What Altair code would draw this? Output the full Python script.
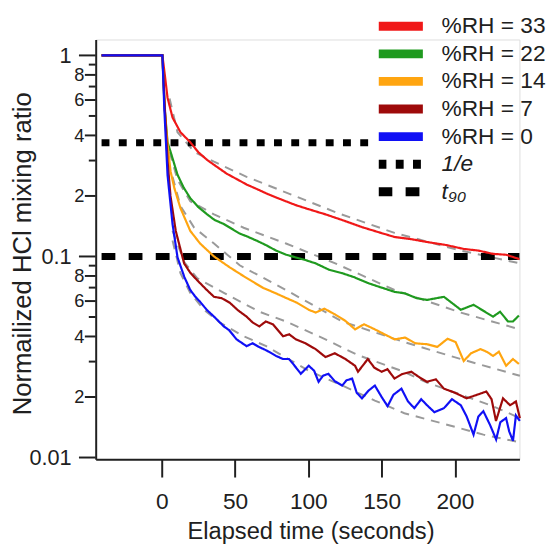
import altair as alt
import pandas as pd

# ---------------- data ----------------
SERIES = ["%RH = 33", "%RH = 22", "%RH = 14", "%RH = 7", "%RH = 0"]
COLORS = ["#f01818", "#1f9a1f", "#ffa510", "#9e0a0a", "#1010f5"]
REF_LABELS = ["1/e", "t₉₀"]
REF_VALUES = [0.368, 0.1]
REF_START = [-41, -41]
REF_END = [142, 244]

rh33_t = [-41, 0.5, 2, 4, 7.4, 12.8, 19.5, 25, 31, 38, 44.4, 51, 57.9, 64, 71.3, 80, 91.5, 100, 111.7,
          124, 136.6, 148, 158.8, 170, 181, 194, 206, 216, 226, 235, 244]
rh33_y = [1, 1, 0.816, 0.616, 0.491, 0.415, 0.37, 0.33, 0.302, 0.278, 0.258, 0.243, 0.228, 0.218, 0.206,
          0.194, 0.18, 0.172, 0.162, 0.151, 0.14, 0.132, 0.125, 0.122, 0.118, 0.114, 0.109, 0.107, 0.103,
          0.102, 0.097]

rh22_t = [-41, 0.5, 2, 4, 6.1, 10.8, 15, 19.5, 25, 31, 36, 42.4, 48, 53.2, 58, 64.6, 71, 78, 85, 91.5, 98,
          105, 114, 123, 131, 140.6, 150, 158.8, 166, 174, 181, 192.5, 204, 212.7, 221.4, 226, 230.8,
          236.2, 239.6, 243.6]
rh22_y = [1, 1, 0.55, 0.37, 0.331, 0.255, 0.22, 0.195, 0.176, 0.162, 0.152, 0.145, 0.137, 0.13, 0.126,
          0.12, 0.114, 0.107, 0.102, 0.0989, 0.096, 0.0924, 0.086, 0.0826, 0.079, 0.0738, 0.07, 0.0667,
          0.0655, 0.062, 0.0608, 0.063, 0.0543, 0.0575, 0.0526, 0.0502, 0.0531, 0.0475, 0.0475, 0.0508]

rh14_t = [-41, 0.5, 2, 4, 6.1, 8.7, 12.8, 19.5, 26.2, 35.7, 46.4, 55.9, 62, 69.3, 77, 84.8, 92, 100.3, 105,
          111, 118.4, 125, 131.9, 138, 145.4, 152, 158.8, 166, 173, 181, 188, 195, 200.5, 206, 211, 217.4,
          222, 226, 230, 234.9, 239.6, 243.6]
rh14_y = [1, 1, 0.54, 0.36, 0.264, 0.218, 0.174, 0.134, 0.116, 0.1, 0.0883, 0.0798, 0.075, 0.0697, 0.066,
          0.0622, 0.059, 0.0543, 0.0526, 0.055, 0.0514, 0.048, 0.0434, 0.046, 0.0434, 0.041, 0.0387, 0.0395,
          0.037, 0.0366, 0.0355, 0.039, 0.0375, 0.0302, 0.033, 0.0346, 0.0335, 0.032, 0.0336, 0.0286,
          0.0309, 0.0292]

rh7_t = [-41, 0.5, 2, 4, 6, 9.6, 15.3, 19.5, 24.2, 30, 35.7, 41, 46.4, 52, 57.9, 62, 66.6, 71, 76, 82.8, 87,
         91.5, 98, 105, 111.7, 118, 125, 131.9, 133.9, 140.6, 145, 150, 154, 158.8, 164, 170.3, 176, 181,
         187, 192.5, 200, 208, 215, 221.4, 225, 228, 232.8, 237.6, 241.6, 244.3]
rh7_y = [1, 1, 0.58, 0.3, 0.2, 0.134, 0.0924, 0.083, 0.0762, 0.069, 0.063, 0.062, 0.0589, 0.054, 0.0502,
         0.047, 0.0449, 0.0475, 0.0459, 0.0401, 0.041, 0.0387, 0.037, 0.0346, 0.0316, 0.033, 0.031, 0.0286,
         0.0267, 0.0309, 0.028, 0.0267, 0.0275, 0.0247, 0.026, 0.0267, 0.025, 0.0238, 0.0245, 0.022, 0.021,
         0.0197, 0.0205, 0.0213, 0.0195, 0.0152, 0.0197, 0.0182, 0.019, 0.0157]

rh0_t = [-41, 0.5, 1.8, 4, 7.4, 10.8, 15.5, 19.5, 23, 26.2, 31, 35.7, 42.4, 46, 51.1, 57.9, 62, 66.6, 70,
         73.4, 78, 82.8, 86.8, 90, 94.9, 100.3, 104, 107, 110, 113.7, 118, 123.1, 126, 129.9, 133, 136.6,
         141, 145.4, 150, 154.1, 158, 163.5, 168, 172.3, 177, 181, 186, 192.5, 198, 204, 208, 212.7, 216,
         219.4, 224, 228.1, 231, 234.9, 237, 239.6, 241.6, 244.3]
rh0_y = [1, 1, 0.54, 0.254, 0.145, 0.099, 0.0789, 0.0681, 0.063, 0.0595, 0.054, 0.0502, 0.0449, 0.043,
         0.0387, 0.0358, 0.037, 0.0354, 0.0345, 0.0335, 0.032, 0.0309, 0.0309, 0.029, 0.0261, 0.0286,
         0.027, 0.0238, 0.0255, 0.0261, 0.024, 0.0228, 0.0242, 0.0247, 0.021, 0.0197, 0.0215, 0.0228,
         0.02, 0.018, 0.0205, 0.022, 0.019, 0.0176, 0.0195, 0.0182, 0.0168, 0.0176, 0.0195, 0.0182, 0.016,
         0.013, 0.016, 0.017, 0.0145, 0.0123, 0.015, 0.0157, 0.0135, 0.0121, 0.0162, 0.0152]

fit33_t = [5.4, 10.8, 22.2, 35.7, 57.9, 91.5, 120.5, 158.8, 203.9, 244.3]
fit33_y = [0.61, 0.415, 0.331, 0.296, 0.249, 0.199, 0.164, 0.131, 0.107, 0.0924]
fit22_t = [5.4, 10.8, 19.5, 35.7, 55.9, 84.8, 118.4, 158.8, 203.9, 244.3]
fit22_y = [0.331, 0.241, 0.188, 0.162, 0.139, 0.116, 0.0924, 0.0681, 0.0526, 0.0434]
fit14_t = [7.4, 12.8, 22.2, 35.7, 53.2, 84.8, 123.1, 165.5, 203.9, 244.3]
fit14_y = [0.249, 0.178, 0.139, 0.116, 0.0904, 0.0681, 0.0475, 0.0375, 0.0309, 0.0255]
fit7_t = [7.4, 15.5, 24.2, 42.4, 66.6, 84.8, 111.7, 133.9, 163.5, 181, 226, 244.3]
fit7_y = [0.134, 0.0935, 0.078, 0.0659, 0.0531, 0.0475, 0.0387, 0.0323, 0.027, 0.0236, 0.018, 0.0157]
fit0_t = [7.4, 12.8, 19.5, 28.9, 39.7, 55.9, 71.3, 100.3, 123.1, 145.4, 165.5, 197.2, 219.4, 244.3]
fit0_y = [0.12, 0.0826, 0.0659, 0.0543, 0.0469, 0.0401, 0.0358, 0.027, 0.0228, 0.0192, 0.0166, 0.0144,
          0.013, 0.0119]

Y_TICKS = [round(m * 10.0 ** e, 4) for e in (-2, -1) for m in range(1, 10)] + [1.0]
X_TICKS = [0, 50, 100, 150, 200]

# ---------------- tables ----------------
curve_t = [rh33_t, rh22_t, rh14_t, rh7_t, rh0_t]
curve_y = [rh33_y, rh22_y, rh14_y, rh7_y, rh0_y]
fit_t = [fit33_t, fit22_t, fit14_t, fit7_t, fit0_t]
fit_y = [fit33_y, fit22_y, fit14_y, fit7_y, fit0_y]

rows = []
for i, (name, ts, ys) in enumerate(zip(SERIES, curve_t, curve_y)):
    for j, (t, y) in enumerate(zip(ts, ys)):
        rows.append({"label": name, "t": t, "v": y, "k": j})
curves = pd.DataFrame(rows)

frows = []
for i, (name, ts, ys) in enumerate(zip(SERIES, fit_t, fit_y)):
    for j, (t, y) in enumerate(zip(ts, ys)):
        frows.append({"fit": name, "t": t, "v": y, "k": j})
fits = pd.DataFrame(frows)

refs = pd.DataFrame({"label": REF_LABELS, "v": REF_VALUES, "t": REF_START, "t2": REF_END})
yticks = pd.DataFrame({"v": Y_TICKS})

# ---------------- scales / axes ----------------
FONT = "Liberation Sans"
INK = "#202020"
ALL = SERIES + REF_LABELS

x_scale = alt.Scale(domain=[-45, 244], nice=False, zero=False)
y_scale = alt.Scale(type="log", domain=[0.0098, 1.2], nice=False)
color_scale = alt.Scale(domain=ALL, range=COLORS + ["#000000", "#000000"])
dash_scale = alt.Scale(domain=ALL, range=[[1, 0]] * 5 + [[8, 9.5], [14, 13.5]])


def mant(ref):
    return f"round({ref} / pow(10, floor(log({ref}) / LN10 + 1e-6)))"


M = mant("datum.value")
MAJ = f"{M} == 1"
EVEN = f"{M} % 2 == 0"
MV = mant("datum.v")

x_axis = alt.Axis(
    values=X_TICKS, title="Elapsed time (seconds)", grid=False,
    ticks=True, tickSize=18, tickWidth=2, tickColor=INK,
    domainColor=INK, domainWidth=2,
    labelFont=FONT, labelFontSize=23, labelColor=INK, labelPadding=14, labelFlush=False,
    titleFont=FONT, titleFontSize=24, titleFontWeight="normal", titleColor=INK,
    titleX=218, titleY=80, titleAlign="center", titleBaseline="alphabetic",
)
y_axis = alt.Axis(
    values=Y_TICKS, title="Normailized HCl mixing ratio", grid=False,
    labelExpr=f"{MAJ} ? format(datum.value, '~g') : ({EVEN} ? '' + {M} : '')",
    labelOverlap=False, labelFlush=False,
    ticks=False, tickSize=0,
    labelPadding={"condition": {"test": MAJ, "value": 25}, "value": 12},
    labelFontSize={"condition": {"test": MAJ, "value": 22}, "value": 18.5},
    domainColor=INK, domainWidth=2,
    labelFont=FONT, labelColor=INK, labelBaseline="middle",
    titleFont=FONT, titleFontSize=26, titleFontWeight="normal", titleColor=INK,
    titleX=-66, titleY=217, titleAngle=270, titleAlign="center", titleBaseline="alphabetic",
)

legend = alt.Legend(
    title=None, orient="none", legendX=287, legendY=-27.2,
    symbolType="M-1.769,0H5.154", symbolSize=169, symbolStrokeWidth=9,
    labelFont=FONT, labelFontSize=23, labelColor=INK, labelOffset=41, labelLimit=0,
    labelFontStyle=alt.ExprRef("indexof(datum.value, '%') < 0 ? 'italic' : 'normal'"),
    clipHeight=27.5, rowPadding=0, padding=0, offset=0,
)

X = alt.X("t:Q", scale=x_scale, axis=x_axis)
Y = alt.Y("v:Q", scale=y_scale, axis=y_axis)

# ---------------- layers ----------------
fit_layer = alt.Chart(fits).mark_line(
    color="#9a9a9a", strokeWidth=2, strokeDash=[9, 7]
).encode(x=X, y=Y, detail="fit:N", order="k:Q")

ref_layer = alt.Chart(refs).mark_rule(strokeWidth=7, strokeCap="butt").encode(
    x=X, x2="t2:Q", y=Y,
    color=alt.Color("label:N", scale=color_scale, legend=legend),
    strokeDash=alt.StrokeDash("label:N", scale=dash_scale, legend=legend),
)

curve_layer = alt.Chart(curves).mark_line(strokeWidth=2.2, strokeCap="butt").encode(
    x=X, y=Y,
    color=alt.Color("label:N", scale=color_scale, legend=legend),
    strokeDash=alt.StrokeDash("label:N", scale=dash_scale, legend=legend),
    order="k:Q",
)

tick_rule = dict(strokeWidth=2, stroke=INK, clip=False)
ytick_major = alt.Chart(yticks).transform_filter(f"{MV} == 1").mark_rule(**tick_rule).encode(
    y=Y, x=alt.value(-17), x2=alt.value(0))
ytick_even = alt.Chart(yticks).transform_filter(f"{MV} != 1 && {MV} % 2 == 0").mark_rule(**tick_rule).encode(
    y=Y, x=alt.value(-11), x2=alt.value(0))
ytick_odd = alt.Chart(yticks).transform_filter(f"{MV} % 2 == 1 && {MV} != 1").mark_rule(**tick_rule).encode(
    y=Y, x=alt.value(-7), x2=alt.value(0))

chart = alt.layer(
    fit_layer, ref_layer, curve_layer, ytick_major, ytick_even, ytick_odd
).properties(
    width=430, height=426,
    autosize=alt.AutoSizeParams(type="none"),
    padding={"left": 89, "top": 28, "right": 30, "bottom": 82},
).configure_view(stroke=None).configure(font=FONT)

chart.save("out.html", embed_options={"renderer": "svg", "actions": False})
